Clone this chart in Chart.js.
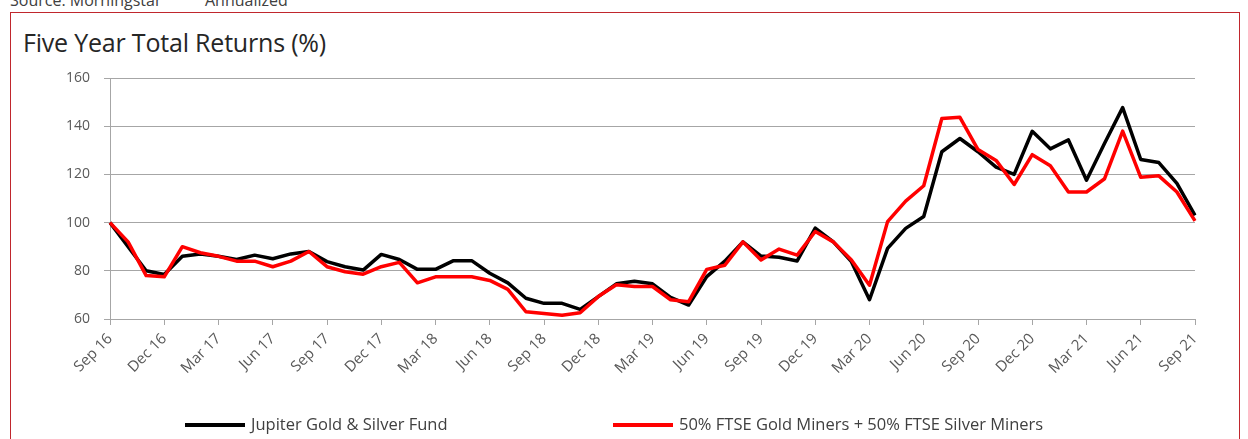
<!DOCTYPE html>
<html>
<head>
<meta charset="utf-8">
<script src="https://cdn.jsdelivr.net/npm/chart.js@4.4.1/dist/chart.umd.min.js"></script>
<style>
  html, body { margin: 0; padding: 0; background: #fff; }
  body { width: 1248px; height: 439px; overflow: hidden; position: relative; font-family: "Open Sans", "Noto Sans", sans-serif; }
  #frame { position: absolute; left: 10px; top: 12px; width: 1230px; height: 440px; border: 1px solid #c0272d; box-sizing: border-box; }
  .src { position: absolute; top: -11px; font-size: 16px; color: #404040; white-space: nowrap; }
  #title { position: absolute; left: 23px; top: 25px; font-size: 25px; color: #262626; white-space: nowrap; letter-spacing: -0.2px; }
  #chart { position: absolute; left: 0; top: 0; }
  .leg { position: absolute; top: 413px; font-size: 16.5px; color: #404040; white-space: nowrap; height: 22px; line-height: 22px; }
  .leg i { display: inline-block; width: 60px; height: 4px; vertical-align: middle; margin-right: 6px; position: relative; top: -1px; }
</style>
</head>
<body>
<div class="src" style="left:10px">Source: Morningstar</div>
<div class="src" style="left:205px">Annualized</div>
<div id="frame"></div>
<div id="title">Five Year Total Returns (%)</div>
<canvas id="chart" width="1248" height="439"></canvas>
<div class="leg" style="left:185px"><i style="background:#000"></i>Jupiter Gold &amp; Silver Fund</div>
<div class="leg" style="left:613px"><i style="background:#ff0000"></i>50% FTSE Gold Miners + 50% FTSE Silver Miners</div>
<script>
const months = [
  "Sep 16","Oct 16","Nov 16","Dec 16","Jan 17","Feb 17","Mar 17","Apr 17","May 17","Jun 17","Jul 17","Aug 17",
  "Sep 17","Oct 17","Nov 17","Dec 17","Jan 18","Feb 18","Mar 18","Apr 18","May 18","Jun 18","Jul 18","Aug 18",
  "Sep 18","Oct 18","Nov 18","Dec 18","Jan 19","Feb 19","Mar 19","Apr 19","May 19","Jun 19","Jul 19","Aug 19",
  "Sep 19","Oct 19","Nov 19","Dec 19","Jan 20","Feb 20","Mar 20","Apr 20","May 20","Jun 20","Jul 20","Aug 20",
  "Sep 20","Oct 20","Nov 20","Dec 20","Jan 21","Feb 21","Mar 21","Apr 21","May 21","Jun 21","Jul 21","Aug 21",
  "Sep 21"
];
const fundName = "Jupiter Gold & Silver Fund";
const indexName = "50% FTSE Gold Miners + 50% FTSE Silver Miners";
const fundValues = [100, 90, 80, 78.5, 86, 87, 86, 84.7, 86.5, 85, 87, 88,
  83.8, 81.7, 80.3, 86.8, 84.7, 80.6, 80.6, 84.2, 84.2, 79, 75, 68.6,
  66.5, 66.5, 64, 69.3, 74.6, 75.7, 74.6, 69, 65.8, 77.6, 84, 92,
  86.1, 85.6, 84.1, 97.7, 92, 83.8, 68, 89.3, 97.6, 102.5, 129.4, 134.9,
  129.4, 123, 120, 137.9, 130.6, 134.3, 117.6, 132.9, 147.7, 126.2, 124.9, 116.3,
  103];
const indexValues = [100, 92, 78, 77.5, 90, 87.5, 86, 84, 84, 81.7, 84, 88,
  81.7, 79.6, 78.6, 81.7, 83.5, 75, 77.5, 77.5, 77.5, 76, 72.3, 63,
  62.3, 61.6, 62.6, 69.3, 74.2, 73.5, 73.5, 68, 67.2, 80.6, 82.3, 92,
  84.5, 89, 86.5, 96.3, 92, 84.5, 74, 100.4, 108.9, 115.3, 143.2, 143.7,
  130.3, 125.8, 115.8, 128.2, 123.6, 112.7, 112.7, 118.2, 138, 118.8, 119.4, 112.7,
  100.7];
const yMin = 60, yMax = 160, yStep = 20;
const tickEvery = 3;

const gridCol = '#a6a6a6';
const fam = '"Open Sans", "Noto Sans", sans-serif';

new Chart(document.getElementById('chart'), {
  type: 'line',
  data: {
    labels: months,
    datasets: [
      { label: indexName, data: indexValues, borderColor: '#ff0000', backgroundColor: '#ff0000',
        borderWidth: 3.5, pointRadius: 0, tension: 0, borderJoinStyle: 'round', order: 0 },
      { label: fundName, data: fundValues, borderColor: '#000000', backgroundColor: '#000000',
        borderWidth: 3.5, pointRadius: 0, tension: 0, borderJoinStyle: 'round', order: 1 }
    ]
  },
  options: {
    responsive: false,
    devicePixelRatio: 1,
    animation: false,
    events: [],
    layout: { padding: { left: 0, right: 53, top: 78, bottom: 50 } },
    plugins: { legend: { display: false }, tooltip: { enabled: false }, title: { display: false } },
    scales: {
      x: {
        type: 'category',
        offset: false,
        afterFit: s => { s.height = 70; },
        grid: {
          display: true, drawOnChartArea: false, drawTicks: true, tickLength: 6,
          color: c => (c.index % tickEvery === 0 ? gridCol : 'rgba(0,0,0,0)'), lineWidth: 1
        },
        border: { display: true, color: gridCol, width: 1 },
        ticks: {
          autoSkip: false, maxRotation: 45, minRotation: 45, padding: 5,
          color: '#595959', font: { family: fam, size: 15 },
          callback: (v, i) => (i % tickEvery === 0 ? months[i] : '')
        }
      },
      y: {
        min: yMin, max: yMax,
        afterFit: s => { s.width = 110; },
        grid: { color: gridCol, lineWidth: 1, drawTicks: true, tickLength: 6, tickColor: gridCol },
        border: { display: true, color: gridCol, width: 1 },
        ticks: { stepSize: yStep, padding: 14, color: '#595959', font: { family: fam, size: 14 } }
      }
    }
  }
});
</script>
</body>
</html>
